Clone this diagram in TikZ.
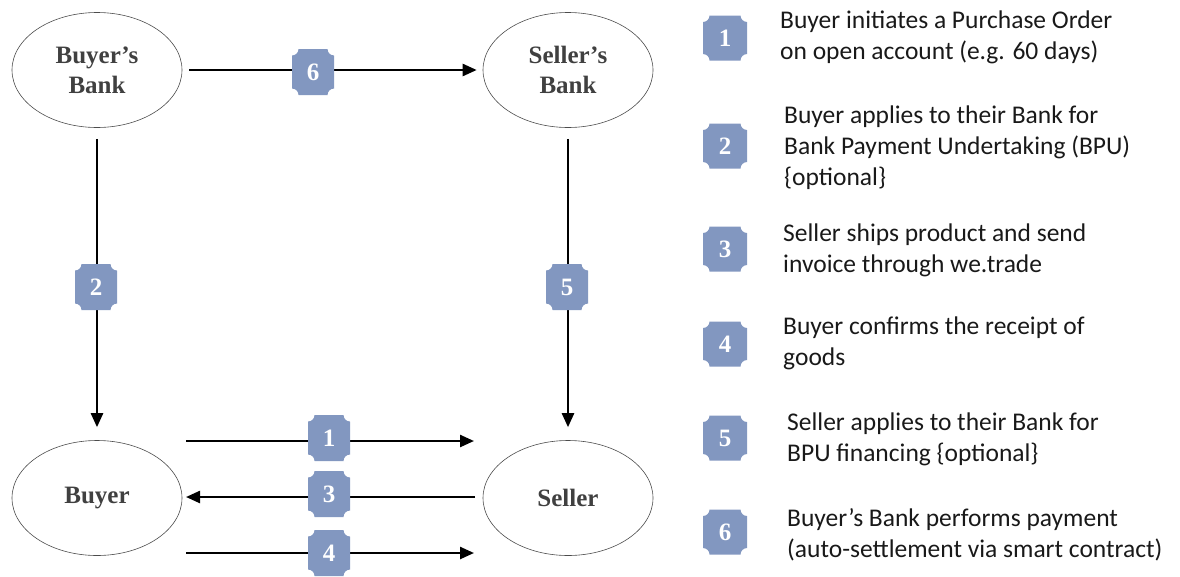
\documentclass[tikz,border=0pt]{standalone}
\usepackage{fontspec}
\setmainfont{Liberation Serif}
\newfontfamily\legendfont{Carlito}
\usetikzlibrary{shapes.geometric,arrows.meta}
\definecolor{badgecol}{RGB}{130,151,192}
\definecolor{labelcol}{RGB}{64,64,64}
\definecolor{legendcol}{RGB}{25,25,25}
\tikzset{
  party/.style={ellipse,draw=black!70,line width=0.6pt,minimum width=170pt,minimum height=115pt,inner sep=0pt,
    font=\fontsize{25}{30}\selectfont\bfseries,text=labelcol,align=center},
  arr/.style={line width=2.4pt,-{Triangle[length=14pt,width=12pt]}},
  plaque/.style={minimum width=#1,inner sep=0pt,text=white,font=\fontsize{25}{25}\selectfont\bfseries,
    path picture={\fill[badgecol]
      ([xshift=6.5pt]path picture bounding box.south west) -- ([xshift=-6.5pt]path picture bounding box.south east)
      arc[start angle=180,end angle=90,radius=6.5pt]
      -- ([yshift=-6.5pt]path picture bounding box.north east)
      arc[start angle=270,end angle=180,radius=6.5pt]
      -- ([xshift=6.5pt]path picture bounding box.north west)
      arc[start angle=0,end angle=-90,radius=6.5pt]
      -- ([yshift=6.5pt]path picture bounding box.south west)
      arc[start angle=90,end angle=0,radius=6.5pt] -- cycle;}},
  dbadge/.style={plaque=42pt,minimum height=46pt},
  lbadge/.style={plaque=44pt,minimum height=45pt},
  legend/.style={anchor=west,align=left,text=legendcol,font=\legendfont\fontsize{25.5}{31}\selectfont,inner sep=0pt}
}
\begin{document}
\begin{tikzpicture}[x=1pt,y=-1pt]
\useasboundingbox (0,0) rectangle (1180,576);
% parties
\node[party] (bb) at (97,70) {Buyer’s\\Bank};
\node[party] (sb) at (568,70) {Seller’s\\Bank};
\node[party] (buyer) at (97,498) {Buyer};
\node[party] (seller) at (568,498) {Seller};
% free ends of the bottom arrows
\coordinate (a1s) at (186,441);
\coordinate (a1e) at (474,441);
\coordinate (a3s) at (475,497);
\coordinate (a3e) at (186,497);
\coordinate (a4s) at (186,553);
\coordinate (a4e) at (474,553);
% connectors
\draw[arr,shorten <=7pt,shorten >=6pt] (bb) -- (sb);
\draw[arr,shorten <=11pt,shorten >=13pt] (bb) -- (buyer);
\draw[arr,shorten <=11pt,shorten >=13pt] (sb) -- (seller);
\draw[arr] (a1s) -- (a1e);
\draw[arr] (a3s) -- (a3e);
\draw[arr] (a4s) -- (a4e);
% badges on the connectors
\node[dbadge] (d6) at (313,72) {6};
\node[dbadge] (d2) at (96,287) {2};
\node[dbadge] (d5) at (567,287) {5};
\node[dbadge] (d1) at (329,438) {1};
\node[dbadge] (d3) at (329,494) {3};
\node[dbadge] (d4) at (329,553) {4};
% legend
\node[lbadge] (l1) at (725,38) {1};
\node[lbadge] (l2) at (725,146) {2};
\node[lbadge] (l3) at (725,249) {3};
\node[lbadge] (l4) at (725,344) {4};
\node[lbadge] (l5) at (725,438) {5};
\node[lbadge] (l6) at (725,532) {6};
\node[legend] (t1) at (780,37) {Buyer initiates a Purchase Order\\on open account (e.g. 60 days)};
\node[legend] (t2) at (784,148) {Buyer applies to their Bank for\\Bank Payment Undertaking (BPU)\\\{optional\}};
\node[legend] (t3) at (783,250) {Seller ships product and send\\invoice through we.trade};
\node[legend] (t4) at (783,343) {Buyer confirms the receipt of\\goods};
\node[legend] (t5) at (787,439) {Seller applies to their Bank for\\BPU financing \{optional\}};
\node[legend] (t6) at (787,535) {Buyer’s Bank performs payment\\(auto-settlement via smart contract)};
\end{tikzpicture}
\end{document}
